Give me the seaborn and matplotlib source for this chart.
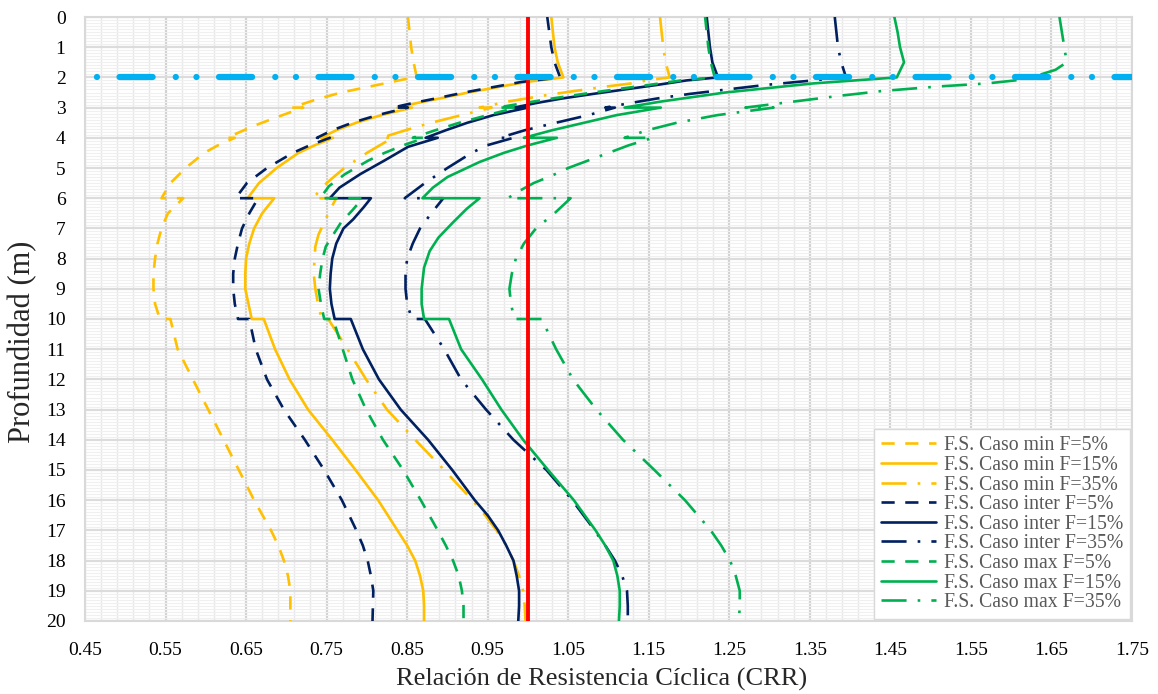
import matplotlib
matplotlib.use("Agg")
import matplotlib.pyplot as plt
import seaborn as sns
from matplotlib.ticker import FixedLocator

sns.set_theme(style="white")
plt.rcParams["font.family"] = ["Liberation Serif", "DejaVu Serif"]

# Factor of safety against liquefaction vs depth: (depth m, F.S.)
# Repeated depths mark layer boundaries where the value steps.
min_05 = [(0, 0.851), (1, 0.855), (1.5, 0.858), (2, 0.862), (2.07, 0.845), (2.2, 0.822),
          (2.35, 0.795), (2.5, 0.768), (2.75, 0.735), (3, 0.707), (3, 0.721), (3.3, 0.690),
          (3.6, 0.660), (4, 0.626), (4, 0.636), (4.25, 0.615), (4.5, 0.598), (5, 0.575),
          (5.5, 0.556), (6, 0.545), (6, 0.572), (6.5, 0.553), (7, 0.545), (7.5, 0.540),
          (8, 0.537), (8.5, 0.535), (9, 0.535), (9.5, 0.537), (10, 0.543), (10, 0.556),
          (11, 0.565), (12, 0.584), (13, 0.603), (14, 0.622), (15, 0.641), (16, 0.660),
          (17, 0.681), (17.5, 0.690), (18, 0.697), (18.5, 0.702), (19, 0.705), (20, 0.705)]
min_15 = [(0, 1.029), (1, 1.033), (1.5, 1.037), (2, 1.044), (2.15, 0.998), (2.35, 0.957),
          (2.5, 0.926), (2.7, 0.890), (2.85, 0.862), (3, 0.838), (3, 0.856), (3.25, 0.818),
          (3.5, 0.787), (3.75, 0.762), (4, 0.743), (4, 0.758), (4.25, 0.735), (4.5, 0.715),
          (5, 0.688), (5.5, 0.666), (6, 0.652), (6, 0.685), (6.5, 0.670), (7, 0.660),
          (7.5, 0.654), (8, 0.650), (8.5, 0.649), (9, 0.649), (9.5, 0.653), (10, 0.657),
          (10, 0.672), (11, 0.686), (12, 0.704), (13, 0.727), (14, 0.757), (15, 0.786),
          (16, 0.814), (17, 0.838), (17.5, 0.850), (18, 0.860), (18.5, 0.866), (19, 0.870),
          (19.5, 0.871), (20, 0.871)]
min_35 = [(0, 1.164), (1, 1.168), (1.5, 1.171), (2, 1.176), (2.07, 1.154), (2.2, 1.128),
          (2.3, 1.098), (2.45, 1.058), (2.6, 1.020), (2.8, 0.975), (3, 0.940), (3, 0.955),
          (3.3, 0.910), (3.5, 0.880), (3.75, 0.848), (4, 0.818), (4, 0.832), (4.5, 0.800),
          (5, 0.772), (5.5, 0.750), (6, 0.733), (6, 0.762), (6.4, 0.754), (6.8, 0.747),
          (7.2, 0.740), (7.6, 0.736), (8, 0.735), (8.5, 0.734), (9, 0.736), (9.6, 0.740),
          (10, 0.744), (10, 0.752), (11, 0.776), (12, 0.799), (13, 0.825), (14, 0.860),
          (15, 0.896), (16, 0.931), (16.5, 0.947), (17, 0.961), (17.5, 0.973), (18, 0.982),
          (18.5, 0.989), (19, 0.994), (19.5, 0.996), (20, 0.997)]
inter_05 = [(0, 1.024), (1, 1.029), (1.5, 1.033), (2, 1.040), (2.15, 0.992), (2.35, 0.951),
            (2.5, 0.921), (2.7, 0.885), (2.85, 0.857), (3, 0.832), (3, 0.851), (3.25, 0.813),
            (3.5, 0.782), (3.75, 0.757), (4, 0.738), (4, 0.754), (4.25, 0.729), (4.5, 0.708),
            (5, 0.676), (5.5, 0.651), (6, 0.637), (6, 0.665), (6.5, 0.654), (7, 0.645),
            (7.5, 0.640), (8, 0.636), (8.5, 0.634), (9, 0.634), (9.5, 0.636), (10, 0.640),
            (10, 0.654), (11, 0.662), (12, 0.676), (13, 0.697), (14, 0.723), (15, 0.747),
            (16, 0.769), (17, 0.787), (17.5, 0.795), (18, 0.801), (18.5, 0.805), (19, 0.808),
            (20, 0.807)]
inter_15 = [(0, 1.222), (1, 1.226), (1.5, 1.229), (2, 1.236), (2.1, 1.197), (2.25, 1.160),
            (2.4, 1.120), (2.55, 1.080), (2.7, 1.042), (2.85, 1.010), (3, 0.983), (3, 1.000),
            (3.25, 0.957), (3.5, 0.925), (3.75, 0.898), (4, 0.873), (4, 0.888), (4.3, 0.851),
            (4.75, 0.822), (5.2, 0.792), (5.65, 0.766), (6, 0.754), (6, 0.805), (6.3, 0.796),
            (6.7, 0.783), (7, 0.771), (7.5, 0.762), (8, 0.757), (8.5, 0.755), (9, 0.754),
            (9.5, 0.756), (10, 0.760), (10, 0.780), (11, 0.795), (12, 0.815), (13, 0.842),
            (14, 0.876), (15, 0.906), (16, 0.934), (16.5, 0.950), (17, 0.963), (17.5, 0.973),
            (18, 0.982), (18.5, 0.986), (19, 0.989), (19.5, 0.989), (20, 0.988)]
inter_35 = [(0, 1.381), (1, 1.385), (1.5, 1.389), (2, 1.395), (2.1, 1.354), (2.25, 1.295),
            (2.4, 1.247), (2.55, 1.200), (2.7, 1.160), (2.85, 1.127), (3, 1.096), (3, 1.108),
            (3.25, 1.075), (3.5, 1.035), (3.75, 0.996), (4, 0.965), (4, 0.982), (4.25, 0.949),
            (4.5, 0.930), (5, 0.900), (5.5, 0.872), (6, 0.847), (6, 0.895), (6.5, 0.880),
            (7, 0.866), (7.5, 0.857), (8, 0.850), (8.5, 0.848), (9, 0.848), (9.5, 0.850),
            (10, 0.856), (10, 0.872), (11, 0.896), (12, 0.917), (13, 0.948), (14, 0.982),
            (15, 1.023), (16, 1.055), (17, 1.083), (17.5, 1.096), (18, 1.108), (18.5, 1.117),
            (19, 1.123), (19.5, 1.124), (20, 1.124)]
max_05 = [(0, 1.220), (1, 1.224), (1.5, 1.227), (2, 1.232), (2.1, 1.190), (2.25, 1.150),
          (2.4, 1.108), (2.55, 1.068), (2.7, 1.030), (2.85, 0.995), (3, 0.962), (3, 0.985),
          (3.25, 0.950), (3.5, 0.915), (3.75, 0.885), (4, 0.857), (4, 0.872), (4.25, 0.845),
          (4.5, 0.822), (4.75, 0.802), (5.2, 0.773), (5.6, 0.753), (6, 0.742), (6, 0.795),
          (6.4, 0.782), (6.8, 0.768), (7.3, 0.756), (7.6, 0.749), (8, 0.745), (8.5, 0.742),
          (9, 0.740), (9.5, 0.743), (10, 0.747), (10, 0.758), (11, 0.770), (12, 0.782),
          (13, 0.799), (14, 0.820), (15, 0.845), (16, 0.867), (17, 0.888), (17.5, 0.898),
          (18, 0.907), (18.5, 0.914), (19, 0.918), (19.5, 0.920), (20, 0.920)]
max_15 = [(0, 1.455), (0.5, 1.459), (1, 1.462), (1.5, 1.467), (2, 1.458), (2.2, 1.354),
          (2.5, 1.245), (2.8, 1.165), (3, 1.120), (3, 1.165), (3.25, 1.110), (3.5, 1.070),
          (3.75, 1.030), (4, 0.995), (4, 1.036), (4.25, 1.000), (4.5, 0.970), (4.8, 0.940),
          (5.3, 0.900), (5.65, 0.882), (6, 0.869), (6, 0.940), (6.35, 0.924), (6.8, 0.907),
          (7.3, 0.889), (7.75, 0.878), (8.3, 0.871), (9, 0.868), (9.5, 0.868), (10, 0.871),
          (10, 0.902), (11, 0.917), (12, 0.943), (13, 0.967), (14, 0.994), (15, 1.025),
          (16, 1.057), (17, 1.084), (17.5, 1.096), (18, 1.106), (18.5, 1.111), (19, 1.114),
          (19.5, 1.114), (20, 1.113)]
max_35 = [(0, 1.660), (1, 1.666), (1.5, 1.669), (1.75, 1.655), (2, 1.625), (2.1, 1.605),
          (2.2, 1.570), (2.3, 1.510), (2.45, 1.440), (2.6, 1.390), (2.8, 1.330), (3, 1.270),
          (3, 1.305), (3.25, 1.235), (3.5, 1.185), (3.75, 1.148), (4, 1.120), (4, 1.155),
          (4.25, 1.125), (4.5, 1.100), (4.75, 1.075), (5, 1.050), (5.25, 1.030), (5.5, 1.007),
          (5.75, 0.990), (6, 0.975), (6, 1.053), (6.5, 1.033), (7, 1.010), (7.5, 0.995),
          (8, 0.985), (8.5, 0.980), (9, 0.977), (9.5, 0.979), (10, 0.983), (10, 1.017),
          (10.5, 1.026), (11, 1.035), (12, 1.056), (13, 1.085), (14, 1.118), (15, 1.157),
          (16, 1.195), (17, 1.227), (17.5, 1.240), (18, 1.251), (18.5, 1.258), (19, 1.263),
          (19.5, 1.263), (20, 1.262)]

labels = ["F.S. Caso min F=5%", "F.S. Caso min F=15%", "F.S. Caso min F=35%",
          "F.S. Caso inter F=5%", "F.S. Caso inter F=15%", "F.S. Caso inter F=35%",
          "F.S. Caso max F=5%", "F.S. Caso max F=15%", "F.S. Caso max F=35%"]

water_table = 2.0      # depth of the phreatic level (m)
fs_limit = 1.0         # F.S. = 1 reference

x_ticks = [0.45, 0.55, 0.65, 0.75, 0.85, 0.95, 1.05, 1.15, 1.25, 1.35, 1.45, 1.55, 1.65, 1.75]
y_ticks = list(range(0, 21))

YELLOW, NAVY, GREEN = "#FFC000", "#002060", "#00B050"
DASH = (0, (5.0, 4.0))
LONG_DASH_DOT = (0, (9.5, 4.2, 1.0, 4.2))

series = [
    (min_05, YELLOW, DASH), (min_15, YELLOW, "-"), (min_35, YELLOW, LONG_DASH_DOT),
    (inter_05, NAVY, DASH), (inter_15, NAVY, "-"), (inter_35, NAVY, LONG_DASH_DOT),
    (max_05, GREEN, DASH), (max_15, GREEN, "-"), (max_35, GREEN, LONG_DASH_DOT),
]

fig, ax = plt.subplots(figsize=(11.58, 6.94), dpi=100)
fig.subplots_adjust(left=0.0734, right=0.9775, top=0.9755, bottom=0.1052)

handles = []
for (pts, color, ls), label in zip(series, labels):
    depth = [p[0] for p in pts]
    fs = [p[1] for p in pts]
    sns.lineplot(x=fs, y=depth, ax=ax, color=color, linewidth=1.9, linestyle=ls,
                 sort=False, estimator=None, orient="y", legend=False, label=label, zorder=3)
    handles.append(ax.lines[-1])

ax.axvline(fs_limit, color="#FF0000", linewidth=2.8, zorder=5)
ax.axhline(water_table, color="#00B0F0", linewidth=4.5,
           linestyle=(10.4, (5.3, 3.7, 0.01, 3.3, 0.01, 3.6)),
           dash_capstyle="round", zorder=6)

ax.set_xlim(x_ticks[0], x_ticks[-1])
ax.set_ylim(y_ticks[-1], y_ticks[0])
ax.xaxis.set_major_locator(FixedLocator(x_ticks))
ax.yaxis.set_major_locator(FixedLocator(y_ticks))
ax.set_xticklabels([f"{v:.2f}" for v in x_ticks])
ax.set_yticklabels([str(v) for v in y_ticks])
ax.xaxis.set_minor_locator(FixedLocator([x_ticks[0] + 0.02 * i for i in range(66)]))
ax.yaxis.set_minor_locator(FixedLocator([0.1 * i for i in range(201)]))

ax.grid(which="minor", axis="x", color="#E8E8E8", linewidth=1.0, zorder=0)
ax.grid(which="minor", axis="y", color="#F0F0F0", linewidth=0.8, zorder=0)
ax.grid(which="major", axis="x", color="#D2D2D2", linewidth=1.6, zorder=1)
ax.grid(which="major", axis="y", color="#DCDCDC", linewidth=1.6, zorder=1)
ax.set_axisbelow(True)

for side in ax.spines.values():
    side.set_color("#D9D9D9")
    side.set_linewidth(1.5)

ax.tick_params(axis="both", which="both", length=0, labelsize=14, colors="black")
ax.tick_params(axis="x", pad=15)
ax.tick_params(axis="y", pad=14)

ax.set_xlabel("Relación de Resistencia Cíclica (CRR)", fontsize=19)
ax.xaxis.set_label_coords(0.493, -0.078)
ax.set_ylabel("Profundidad (m)", fontsize=22)
ax.yaxis.set_label_coords(-0.046, 0.462)

leg = ax.legend(handles=handles, labels=labels, loc="lower right", fontsize=14.2,
                frameon=True, fancybox=False, framealpha=1, edgecolor="#D9D9D9",
                borderaxespad=0.1, handlelength=2.8, handletextpad=0.4,
                labelspacing=0.03, borderpad=0.35)
for t in leg.get_texts():
    t.set_color("#595959")

fig.savefig("out.png", dpi=100)
